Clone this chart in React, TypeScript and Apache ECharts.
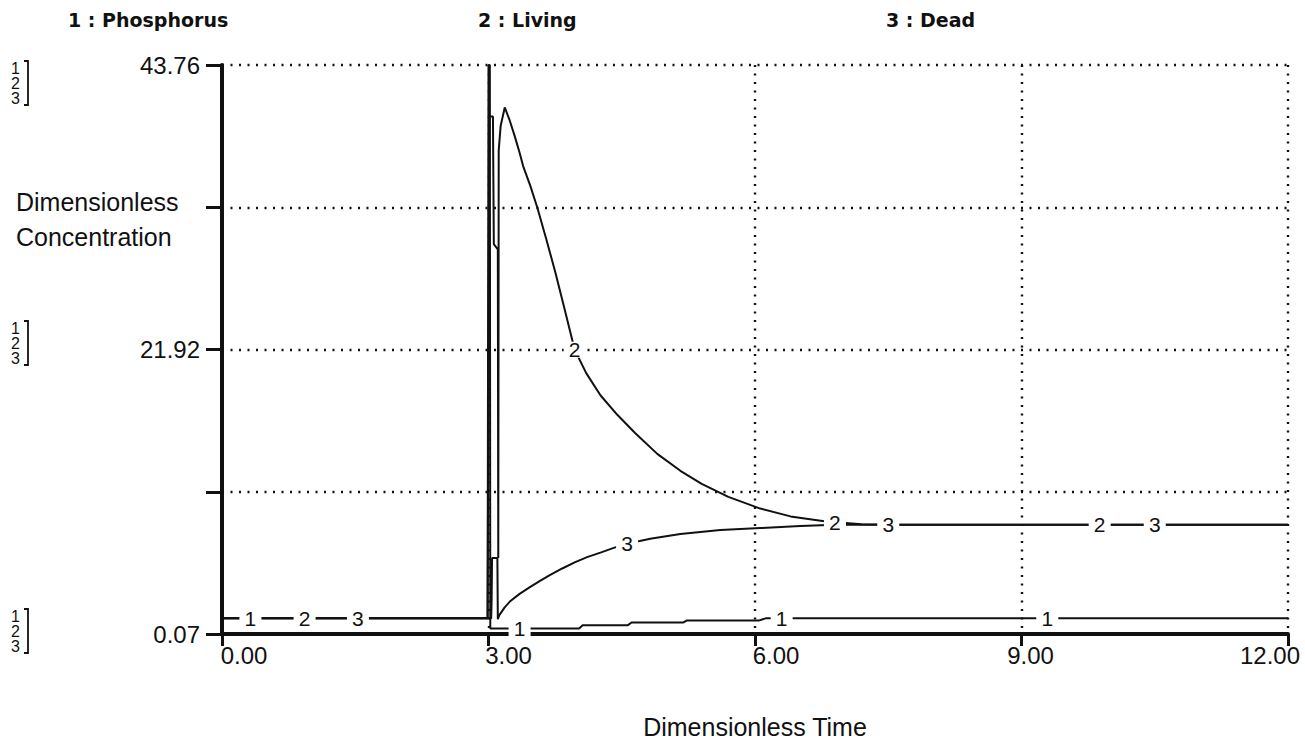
import React, { useEffect, useRef } from 'react';
import * as echarts from 'echarts';

// ---------- data ----------
const X_TICK_LABELS = ['0.00', '3.00', '6.00', '9.00', '12.00'];
const Y_TICK_LABELS = ['0.07', '', '21.92', '', '43.76'];
const Y_MIN = 0.07;
const Y_MAX = 43.76;
const X_MAX = 12;
const X_INTERVAL = 3;

const LEGEND_NAMES = ['1 : Phosphorus', '2 : Living', '3 : Dead'];

// [time, value]
const phosphorus: [number, number][] = [
  [0, 1.27], [2.99, 1.27], [3.0, 43.76], [3.015, 43.76], [3.02, 0.5],
  [4.02, 0.5], [4.06, 0.75], [4.57, 0.75], [4.61, 0.95], [5.19, 0.95],
  [5.23, 1.1], [6.04, 1.1], [6.12, 1.27], [12, 1.27],
];

const living: [number, number][] = [
  [0, 1.27], [2.99, 1.27], [3.01, 39.8], [3.05, 39.8], [3.06, 30.0],
  [3.105, 29.6], [3.11, 5.9], [3.112, 5.9], [3.115, 37.2], [3.137, 39.1],
  [3.183, 40.5], [3.239, 39.5], [3.295, 38.3], [3.351, 37.0], [3.39, 36.0],
  [3.47, 34.5], [3.55, 32.8], [3.65, 30.4], [3.75, 27.9], [3.85, 25.2],
  [3.97, 21.9], [4.1, 20.1], [4.26, 18.4], [4.45, 16.9], [4.65, 15.5],
  [4.9, 13.9], [5.16, 12.6], [5.4, 11.6], [5.7, 10.6], [6.06, 9.7],
  [6.4, 9.1], [6.8, 8.7], [7.2, 8.5], [7.5, 8.45], [12, 8.45],
];

const dead: [number, number][] = [
  [0, 1.27], [2.99, 1.27], [3.03, 1.27], [3.035, 2.6], [3.04, 5.9],
  [3.1, 5.9], [3.105, 1.2], [3.12, 1.5], [3.18, 2.1], [3.24, 2.56],
  [3.35, 3.15], [3.47, 3.69], [3.58, 4.15], [3.69, 4.59], [3.83, 5.1],
  [3.97, 5.57], [4.11, 5.97], [4.26, 6.32], [4.41, 6.68], [4.56, 7.0],
  [4.82, 7.38], [5.16, 7.75], [5.61, 8.05], [6.06, 8.2], [6.51, 8.36],
  [6.9, 8.45], [12, 8.45],
];

// times where each series' number is printed on its line
const phosphorusLabelTimes = [0.32, 3.35, 6.3, 9.29];
const livingLabelTimes = [0.93, 3.97, 6.9, 9.88];
const deadLabelTimes = [1.53, 4.56, 7.5, 10.5];

// ---------- helpers ----------
function interp(pts: [number, number][], t: number): number {
  for (let i = 1; i < pts.length; i++) {
    const [t0, v0] = pts[i - 1];
    const [t1, v1] = pts[i];
    if (t >= t0 && t <= t1) {
      if (t1 === t0) return v1;
      return v0 + ((v1 - v0) * (t - t0)) / (t1 - t0);
    }
  }
  return pts[pts.length - 1][1];
}

const FONT = '"Liberation Sans", Arial, sans-serif';
const LEGEND_FONT = '"DejaVu Sans", sans-serif';
const INK = '#111';

function makeSeries(name: string, digit: string, pts: [number, number][], labelTimes: number[]) {
  return {
    type: 'line',
    name,
    data: pts.map(([t, v]) => [t, v - Y_MIN]),
    symbol: 'none',
    showSymbol: false,
    lineStyle: { color: INK, width: 2 },
    itemStyle: { color: INK },
    z: 3,
    markPoint: {
      symbol: 'rect',
      symbolSize: [22, 16],
      itemStyle: { color: '#fff' },
      label: {
        show: true,
        position: 'inside',
        formatter: digit,
        color: INK,
        fontSize: 21,
        fontFamily: FONT,
      },
      data: labelTimes.map((t) => ({ coord: [t, interp(pts, t) - Y_MIN] })),
    },
  };
}

function bracket(x: number, yTop: number) {
  return [
    {
      type: 'text',
      left: x,
      top: yTop,
      style: { text: '1\n2\n3', fontSize: 16, lineHeight: 15, fontFamily: FONT, fill: INK },
    },
    {
      type: 'polyline',
      shape: {
        points: [
          [x + 13, yTop + 1],
          [x + 17, yTop + 1],
          [x + 17, yTop + 45],
          [x + 13, yTop + 45],
        ],
      },
      style: { stroke: INK, lineWidth: 1.8, fill: 'none' },
    },
  ];
}

// per-label horizontal shift (rich padding) to mimic the original label placement
const X_LABEL_PAD = [
  [0, 0, 0, 44],
  [0, 0, 0, 40],
  [0, 0, 0, 42],
  [0, 0, 0, 18],
  [0, 36, 0, 0],
];

export default function App() {
  const ref = useRef<HTMLDivElement>(null);
  useEffect(() => {
    if (!ref.current) return;
    const chart = echarts.init(ref.current, null, { renderer: 'svg' });
    const yInterval = (Y_MAX - Y_MIN) / 4;
    const dotted = { type: [2, 6.5], width: 2.4, color: INK };
    const rich: Record<string, any> = {};
    X_LABEL_PAD.forEach((p, i) => {
      rich['l' + i] = { padding: p, fontSize: 24, fontFamily: FONT, color: INK };
    });
    const legendStyle = { fontSize: 19, fontWeight: 'bold', fontFamily: LEGEND_FONT, fill: INK };
    chart.setOption({
      animation: false,
      backgroundColor: '#fff',
      grid: { left: 222, top: 65, width: 1066, height: 580, containLabel: false },
      xAxis: {
        type: 'value',
        min: 0,
        max: X_MAX,
        interval: X_INTERVAL,
        name: 'Dimensionless Time',
        nameLocation: 'middle',
        nameGap: 80,
        nameTextStyle: { fontSize: 25, color: INK, fontFamily: FONT },
        axisLine: { show: true, lineStyle: { color: INK, width: 4 } },
        axisTick: { show: true, length: 12, lineStyle: { color: INK, width: 3 } },
        axisLabel: {
          margin: 9,
          fontSize: 24,
          color: INK,
          fontFamily: FONT,
          rich,
          formatter: (v: number) => {
            const i = Math.round(v / X_INTERVAL);
            const t = X_TICK_LABELS[i];
            return t ? `{l${i}|${t}}` : '';
          },
        },
        splitLine: { show: true, lineStyle: dotted },
      },
      yAxis: {
        type: 'value',
        min: 0,
        max: Y_MAX - Y_MIN,
        interval: yInterval,
        axisLine: { show: true, lineStyle: { color: INK, width: 4 } },
        axisTick: { show: true, length: 16, lineStyle: { color: INK, width: 3 } },
        axisLabel: {
          margin: 22,
          fontSize: 24,
          color: INK,
          fontFamily: FONT,
          formatter: (v: number) => Y_TICK_LABELS[Math.round(v / yInterval)] ?? '',
        },
        splitLine: { show: true, lineStyle: dotted },
      },
      graphic: [
        { type: 'text', left: 68, top: 10, style: { text: LEGEND_NAMES[0], ...legendStyle } },
        { type: 'text', left: 478, top: 10, style: { text: LEGEND_NAMES[1], ...legendStyle } },
        { type: 'text', left: 886, top: 10, style: { text: LEGEND_NAMES[2], ...legendStyle } },
        {
          type: 'text',
          left: 16,
          top: 184,
          style: {
            text: 'Dimensionless\nConcentration',
            fontSize: 25,
            lineHeight: 35,
            fontFamily: FONT,
            fill: INK,
          },
        },
        ...bracket(11, 60),
        ...bracket(11, 320),
        ...bracket(11, 608),
      ],
      series: [
        makeSeries('Phosphorus', '1', phosphorus, phosphorusLabelTimes),
        makeSeries('Living', '2', living, livingLabelTimes),
        makeSeries('Dead', '3', dead, deadLabelTimes),
      ],
    });
    return () => chart.dispose();
  }, []);
  return <div ref={ref} style={{ position: 'fixed', left: 0, top: 0, width: 1305, height: 744 }} />;
}
